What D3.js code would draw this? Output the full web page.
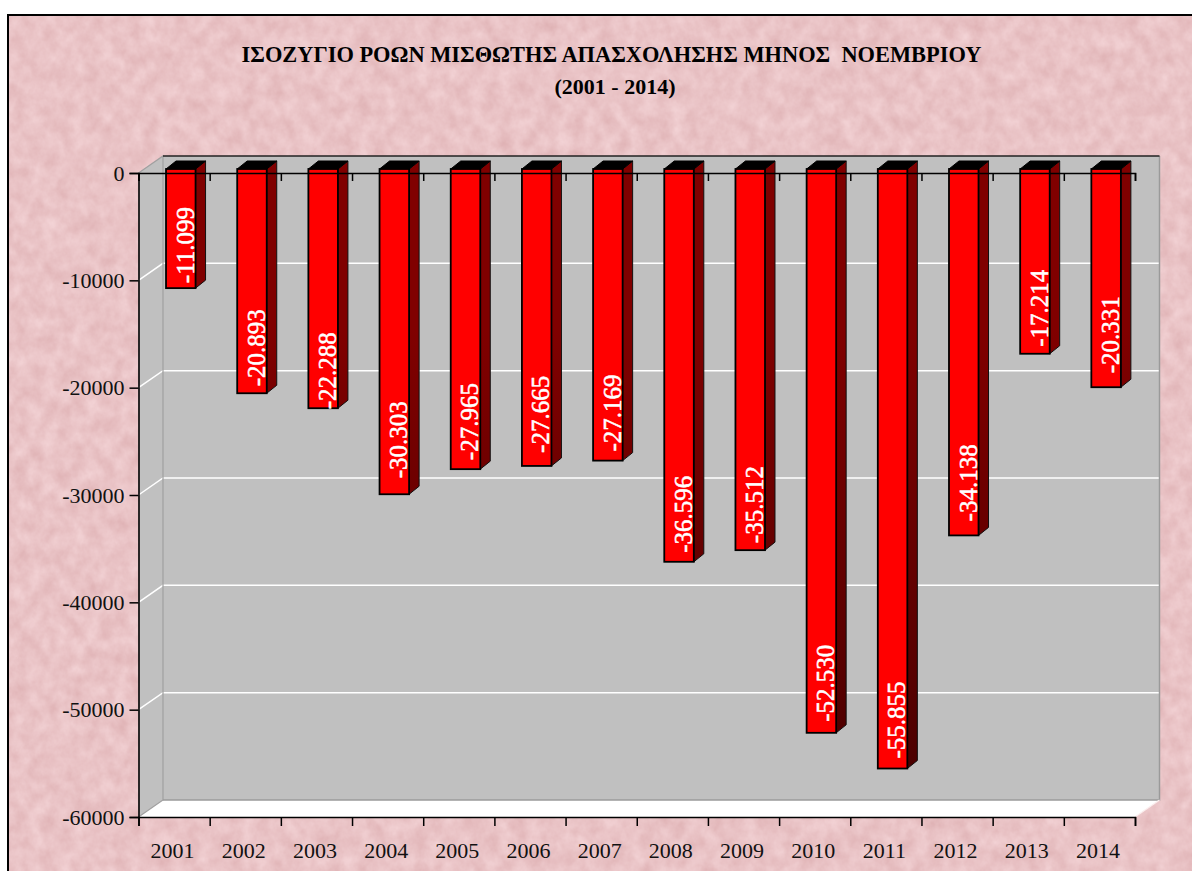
<!DOCTYPE html>
<html>
<head>
<meta charset="utf-8">
<script src="https://cdnjs.cloudflare.com/ajax/libs/d3/7.8.5/d3.min.js"></script>
<style>
  html, body { margin: 0; padding: 0; background: #fff; overflow: hidden; }
  svg { display: block; }
  text { font-family: "Liberation Serif", serif; }
</style>
</head>
<body>
<div id="chart"></div>
<script>
const years = ["2001", "2002", "2003", "2004", "2005", "2006", "2007", "2008", "2009", "2010", "2011", "2012", "2013", "2014"];
const balance = [-11099, -20893, -22288, -30303, -27965, -27665, -27169, -36596, -35512, -52530, -55855, -34138, -17214, -20331];
const barLabels = ["-11.099", "-20.893", "-22.288", "-30.303", "-27.965", "-27.665", "-27.169", "-36.596", "-35.512", "-52.530", "-55.855", "-34.138", "-17.214", "-20.331"];
const yTicks = [0, -10000, -20000, -30000, -40000, -50000, -60000];
const titleLines = ["ΙΣΟΖΥΓΙΟ ΡΟΩΝ ΜΙΣΘΩΤΗΣ ΑΠΑΣΧΟΛΗΣΗΣ ΜΗΝΟΣ  ΝΟΕΜΒΡΙΟΥ", "(2001 - 2014)"];

// gap between bar end and label start, the source chart places these unevenly
const labelGap = [5, 7, -1, 16, 9, 13, 9, 9, 7, 11, 10, 14, 7, 14];

const margin = { top: 173, right: 57, bottom: 54, left: 138.5 };
const width = 1192 - margin.left - margin.right;
const height = 871 - margin.top - margin.bottom;
const wallDx = 24.5, wallDy = -17;   // depth of the back wall
const barDx = 10, barDy = -8;        // depth of one bar
const barShift = { x: 6.7, y: -4 };

const svg = d3.select("#chart").append("svg")
  .attr("width", 1192)
  .attr("height", 871);

const defs = svg.append("defs");

const paper = defs.append("filter")
  .attr("id", "paper")
  .attr("x", 0).attr("y", 0).attr("width", 1).attr("height", 1)
  .attr("color-interpolation-filters", "sRGB");
paper.append("feTurbulence")
  .attr("type", "fractalNoise")
  .attr("baseFrequency", "0.07 0.06")
  .attr("numOctaves", 4)
  .attr("seed", 7);
paper.append("feColorMatrix")
  .attr("type", "matrix")
  .attr("values", "0.09 0 0 0 0.87  0.15 0 0 0 0.69  0.15 0 0 0 0.70  0 0 0 0 1");

const sideFade = defs.append("linearGradient")
  .attr("id", "sideFade")
  .attr("gradientUnits", "userSpaceOnUse")
  .attr("x1", 0).attr("x2", 0).attr("y1", 160).attr("y2", 770);
sideFade.append("stop").attr("offset", 0).attr("stop-color", "#800000");
sideFade.append("stop").attr("offset", 1).attr("stop-color", "#380000");

// paper background and frame
svg.append("rect")
  .attr("x", 8).attr("y", 15)
  .attr("width", 1300).attr("height", 1000)
  .attr("fill", "#ebc5c7")
  .attr("filter", "url(#paper)");
svg.append("rect")
  .attr("x", 8).attr("y", 15)
  .attr("width", 1300).attr("height", 1000)
  .attr("fill", "none")
  .attr("stroke", "#000")
  .attr("stroke-width", 2);

// title
svg.selectAll(".title").data(titleLines).enter().append("text")
  .attr("class", "title")
  .attr("x", (d, i) => i === 0 ? 611.5 : 615)
  .attr("y", (d, i) => i === 0 ? 62 : 94)
  .attr("text-anchor", "middle")
  .attr("font-weight", "bold")
  .attr("font-size", (d, i) => i === 0 ? 22.4 : 22)
  .attr("xml:space", "preserve")
  .text(d => d);

const g = svg.append("g")
  .attr("transform", `translate(${margin.left},${margin.top})`);

const xScale = d3.scaleBand().domain(years).range([0, width]);
const xEdges = d3.scaleLinear().domain([0, years.length]).range([0, width]);
const yScale = d3.scaleLinear().domain([0, -60000]).range([0, height]);
const barWidth = xScale.step() * 0.415;

// walls and floor
const y0 = yScale(0), yEnd = yScale(-60000);
const poly = pts => pts.map(p => p.join(",")).join(" ");

g.append("polygon")
  .attr("points", poly([[0, y0], [wallDx, y0 + wallDy], [wallDx, yEnd + wallDy], [0, yEnd]]))
  .attr("fill", "#c0c0c0");
g.append("rect")
  .attr("x", wallDx).attr("y", y0 + wallDy)
  .attr("width", width).attr("height", yEnd - y0)
  .attr("fill", "#c0c0c0");
g.append("polygon")
  .attr("points", poly([[0, yEnd], [wallDx, yEnd + wallDy], [width + wallDx, yEnd + wallDy], [width, yEnd]]))
  .attr("fill", "#fff");

// grid lines on side wall and back wall
const grid = yTicks.slice(1, -1);
g.selectAll(".grid").data(grid).enter().append("path")
  .attr("class", "grid")
  .attr("d", d => `M0,${yScale(d)}L${wallDx},${yScale(d) + wallDy}H${width + wallDx}`)
  .attr("fill", "none")
  .attr("stroke", "#fff")
  .attr("stroke-width", 1.5);

// wall edges
g.append("path")
  .attr("d", `M0,${y0}L${wallDx},${y0 + wallDy}V${yEnd + wallDy}L0,${yEnd}`)
  .attr("fill", "none").attr("stroke", "#a0a0a0").attr("stroke-width", 1.2);
g.append("path")
  .attr("d", `M${wallDx},${yEnd + wallDy}H${width + wallDx}V${y0 + wallDy}`)
  .attr("fill", "none").attr("stroke", "#9a9a9a").attr("stroke-width", 1.5);
g.append("line")
  .attr("x1", wallDx).attr("x2", width + wallDx)
  .attr("y1", y0 + wallDy).attr("y2", y0 + wallDy)
  .attr("stroke", "#222").attr("stroke-width", 1.6);
g.append("line")
  .attr("x1", width).attr("y1", yEnd)
  .attr("x2", width + wallDx).attr("y2", yEnd + wallDy)
  .attr("stroke", "#fbeeee").attr("stroke-width", 1.2);

// bars
const rows = years.map((year, i) => ({ year, value: balance[i], label: barLabels[i], gap: labelGap[i] }));
const bars = g.selectAll(".bar").data(rows).enter().append("g")
  .attr("class", "bar")
  .attr("transform", d => `translate(${xScale(d.year) + xScale.step() / 2 + barShift.x - barWidth / 2},${barShift.y})`);

bars.append("polygon")
  .attr("points", d => poly([[barWidth, y0], [barWidth + barDx, y0 + barDy], [barWidth + barDx, yScale(d.value) + barDy], [barWidth, yScale(d.value)]]))
  .attr("fill", "url(#sideFade)")
  .attr("stroke", "#111")
  .attr("stroke-width", 1);
bars.append("polygon")
  .attr("points", poly([[0, y0], [barDx, y0 + barDy], [barWidth + barDx, y0 + barDy], [barWidth, y0]]))
  .attr("fill", "#000")
  .attr("stroke", "#000")
  .attr("stroke-width", 1);
bars.append("rect")
  .attr("x", 0).attr("y", y0)
  .attr("width", barWidth)
  .attr("height", d => yScale(d.value) - y0)
  .attr("fill", "#ff0000")
  .attr("stroke", "#000")
  .attr("stroke-width", 1.8);

// axes
const yAxis = d3.axisLeft(yScale).tickValues(yTicks).tickSize(9).tickPadding(5).tickFormat(d => String(d));
const yAxisG = g.append("g").call(yAxis);

const zeroAxis = d3.axisBottom(xEdges).ticks(years.length).tickSize(8).tickFormat("");
g.append("g").call(zeroAxis);

const floorAxis = d3.axisBottom(xEdges).ticks(years.length).tickSize(9).tickFormat("");
g.append("g").attr("transform", `translate(0,${height})`).call(floorAxis);

const yearAxis = d3.axisBottom(xScale).tickSize(0).tickPadding(25);
const yearAxisG = g.append("g").attr("transform", `translate(-1.5,${height})`).call(yearAxis);
yearAxisG.select(".domain").remove();

g.selectAll(".domain").attr("stroke", "#000").attr("stroke-width", 1.6);
g.selectAll(".tick line").attr("stroke", "#000").attr("stroke-width", 1.5);
g.selectAll(".tick text")
  .attr("font-family", "Liberation Serif, serif")
  .attr("font-size", 22)
  .attr("fill", "#111");

// value labels, rotated, on top of everything
bars.append("text")
  .attr("transform", d => `translate(${barWidth - 2},${yScale(d.value) - d.gap}) rotate(-90)`)
  .attr("font-size", 25)
  .attr("fill", "#fff")
  .attr("stroke", "#fff")
  .attr("stroke-width", 0.5)
  .text(d => d.label);
</script>
</body>
</html>
